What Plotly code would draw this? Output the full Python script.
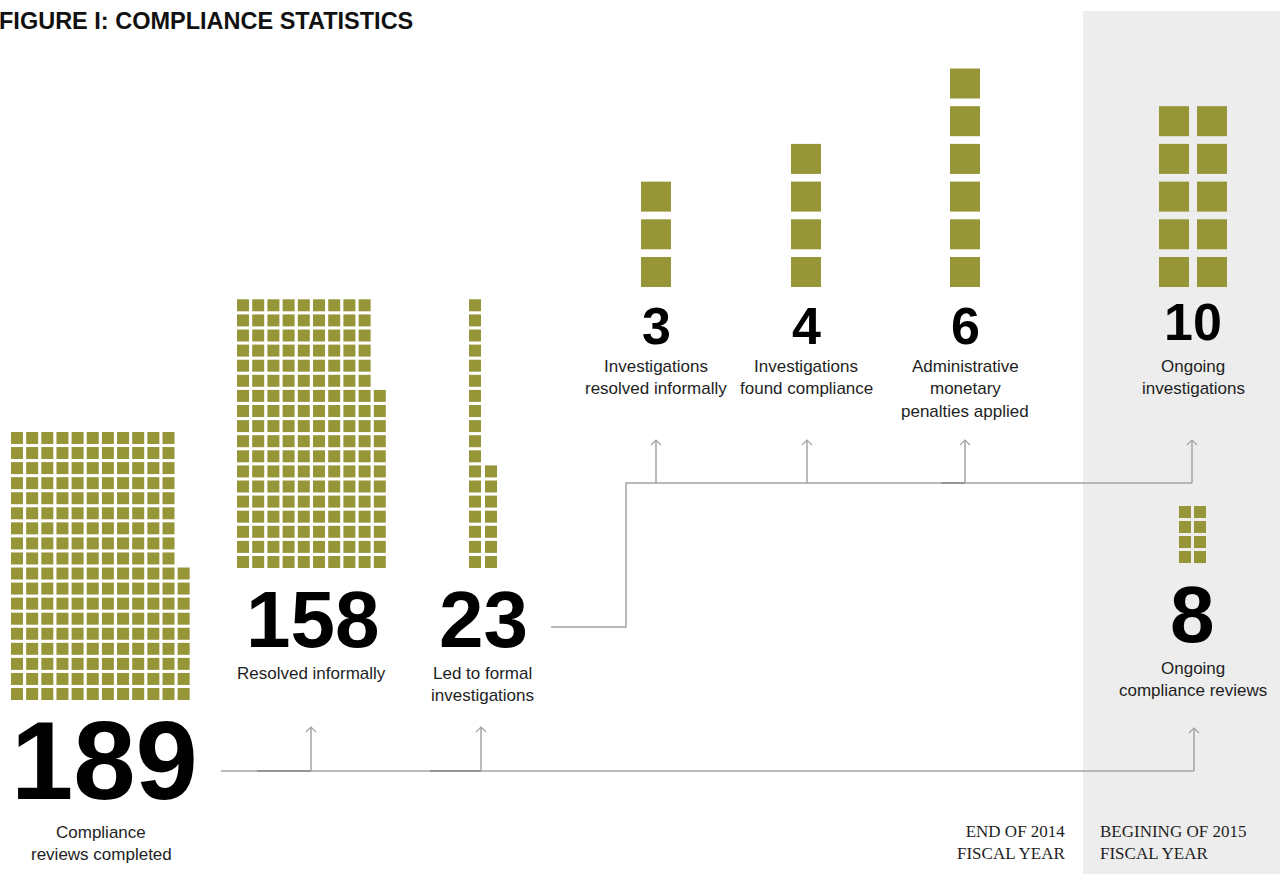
import plotly.graph_objects as go

# ---------------- data ----------------
categories = [
    "Compliance reviews completed",
    "Resolved informally",
    "Led to formal investigations",
    "Investigations resolved informally",
    "Investigations found compliance",
    "Administrative monetary penalties applied",
    "Ongoing investigations",
    "Ongoing compliance reviews",
]
values = [189, 158, 23, 3, 4, 6, 10, 8]
label_lines = [
    ["Compliance", "reviews completed"],
    ["Resolved informally"],
    ["Led to formal", "investigations"],
    ["Investigations", "resolved informally"],
    ["Investigations", "found compliance"],
    ["Administrative", "monetary", "penalties applied"],
    ["Ongoing", "investigations"],
    ["Ongoing", "compliance reviews"],
]
# squares per column (bottom-aligned), as drawn in the graphic
column_counts = [
    [18, 18, 18, 18, 18, 18, 18, 18, 18, 18, 18, 9],
    [18, 18, 18, 18, 18, 18, 18, 18, 18, 12],
    [18, 7],
    [3],
    [4],
    [6],
    [5, 5],
    [4, 4],
]
title = "FIGURE I: COMPLIANCE STATISTICS"
period_labels = ["END OF 2014<br>FISCAL YEAR", "BEGINING OF 2015<br>FISCAL YEAR"]

# ---------------- styles / layout ----------------
OLIVE = "#969538"
LINE = "#a3a3a3"
LINE_DARK = "#8a8a8a"
TXT = "#1e1e1e"
SANS = "Liberation Sans, Arial, sans-serif"
SERIF = "Liberation Serif, Times New Roman, serif"

# center of bottom-left square, x pitch, y pitch, square size
waffle_geom = [
    (17, 694, 15.15, 15.06, 12),
    (243, 562, 15.2, 15.1, 12),
    (475, 562, 16, 15.1, 12),
    (656, 272, 38, 37.7, 30),
    (806, 272, 38, 37.7, 30),
    (965, 272, 38, 37.7, 30),
    (1174, 272, 38, 37.7, 30),
    (1185, 557, 15, 15, 12),
]
# number: (x center, y center, font size); label: (x center, first line y center)
number_pos = [(104, 760, 112), (312, 619, 80), (483, 619, 80), (656, 326, 52),
              (806, 326, 52), (965, 326, 52), (1193, 322, 52), (1192, 614, 80)]
label_pos = [(101, 832), (311, 673), (482, 673), (656, 366), (806, 366),
             (965, 366), (1193, 366), (1193, 668)]

fig = go.Figure()

# grey panel for the beginning of FY2015
fig.add_shape(type="rect", x0=1083, x1=1280, y0=11, y1=874, xref="x", yref="y",
              fillcolor="#ededed", line=dict(width=0), layer="below")

# waffles
for cat, cols, (x0, y0, dx, dy, s) in zip(categories, column_counts, waffle_geom):
    xs, ys = [], []
    for ci, n in enumerate(cols):
        for ri in range(n):
            xs.append(x0 + ci * dx)
            ys.append(y0 - ri * dy)
    fig.add_trace(go.Scatter(
        x=xs, y=ys, mode="markers", name=cat, hoverinfo="name",
        marker=dict(symbol="square", size=s, color=OLIVE, line=dict(width=0)),
    ))

# connector lines
def seg(pts, color=LINE, width=1.5):
    fig.add_trace(go.Scatter(x=[p[0] for p in pts], y=[p[1] for p in pts],
                             mode="lines", line=dict(color=color, width=width),
                             hoverinfo="skip", showlegend=False))

def arrow(x, y_base, y_tip):
    seg([(x, y_base), (x, y_tip)])
    seg([(x - 5, y_tip + 5), (x, y_tip), (x + 5, y_tip + 5)], width=1.2)

seg([(221, 771), (1194, 771)])
seg([(257, 771), (311, 771)], color=LINE_DARK)
seg([(430, 771), (481, 771)], color=LINE_DARK)
arrow(311, 771, 727)
arrow(481, 771, 727)
arrow(1194, 771, 728)

seg([(551, 627), (626, 627), (626, 483), (1192, 483)])
seg([(941, 483), (965, 483)], color=LINE_DARK)
for ax in (656, 807, 965, 1192):
    arrow(ax, 483, 440)

# numbers and labels
for v, (nx, ny, fs), lines, (lx, ly) in zip(values, number_pos, label_lines, label_pos):
    fig.add_annotation(x=nx, y=ny, text=str(v), showarrow=False, xanchor="center",
                       yanchor="middle",
                       font=dict(family=SANS, size=fs, color="#000000", weight="bold"))
    for i, ln in enumerate(lines):
        fig.add_annotation(x=lx, y=ly + i * 22.5, text=ln, showarrow=False,
                           xanchor="center", yanchor="middle",
                           font=dict(family=SANS, size=17, color=TXT))

# title (paper coordinates so it can start slightly left of the edge)
fig.add_annotation(x=0, y=1 - 21 / 874, xref="paper", yref="paper", xshift=-3,
                   text=title, showarrow=False, xanchor="left", yanchor="middle",
                   font=dict(family=SANS, size=23.5, color="#111111", weight="bold"))

# period labels
fig.add_annotation(x=1067, y=842, text=period_labels[0], showarrow=False,
                   xanchor="right", yanchor="middle", align="right",
                   font=dict(family=SERIF, size=17, color=TXT))
fig.add_annotation(x=1098, y=842, text=period_labels[1], showarrow=False,
                   xanchor="left", yanchor="middle", align="left",
                   font=dict(family=SERIF, size=17, color=TXT))

fig.update_layout(
    width=1280, height=874, autosize=False,
    margin=dict(l=0, r=0, t=0, b=0, pad=0),
    paper_bgcolor="white", plot_bgcolor="white",
    showlegend=False,
    xaxis=dict(range=[0, 1280], visible=False, fixedrange=True),
    yaxis=dict(range=[874, 0], visible=False, fixedrange=True),
)

fig.write_html("out.html", config={"displayModeBar": False})
